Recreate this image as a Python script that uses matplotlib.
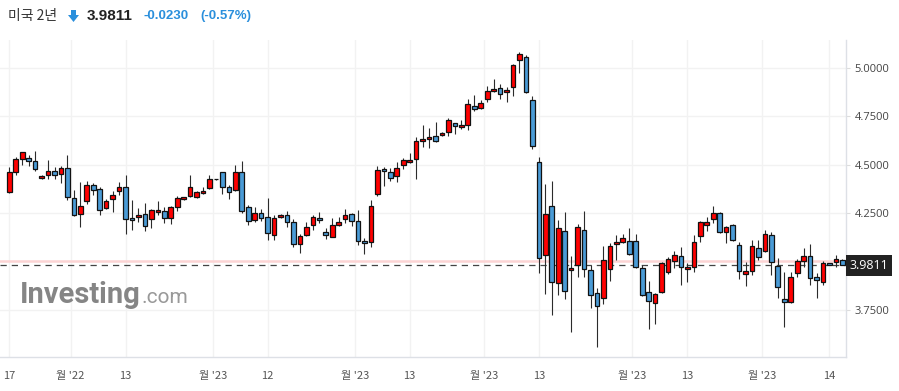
import numpy as np
import matplotlib
matplotlib.use("Agg")
from matplotlib import pyplot as plt
from matplotlib.patches import Polygon
import matplotlib.transforms as mtrans

plt.rcParams['font.family'] = ['Noto Sans CJK KR', 'DejaVu Sans']

# daily candles: open, high, low, close (2-year US treasury yield)
opens = [4.361, 4.464, 4.528, 4.534, 4.518, 4.430, 4.446, 4.466, 4.451, 4.482,
         4.327, 4.244, 4.311, 4.394, 4.373, 4.275, 4.322, 4.363, 4.384, 4.225,
         4.229, 4.244, 4.218, 4.255, 4.260, 4.224, 4.280, 4.322, 4.337, 4.332,
         4.353, 4.379, 4.425, 4.461, 4.384, 4.368, 4.461, 4.280, 4.213, 4.249,
         4.229, 4.136, 4.229, 4.239, 4.203, 4.089, 4.136, 4.188, 4.224, 4.151,
         4.126, 4.188, 4.218, 4.244, 4.208, 4.105, 4.100, 4.348, 4.477, 4.461,
         4.441, 4.497, 4.513, 4.528, 4.621, 4.632, 4.647, 4.652, 4.668, 4.714,
         4.694, 4.704, 4.802, 4.792, 4.838, 4.880, 4.895, 4.874, 4.900, 5.040,
         5.055, 4.833, 4.513, 4.033, 4.286, 3.888, 4.156, 3.955, 3.981, 4.162,
         3.955, 3.836, 3.810, 3.960, 4.089, 4.100, 4.105, 4.105, 3.965, 3.841,
         3.785, 3.841, 3.945, 4.002, 4.027, 3.960, 3.971, 4.131, 4.188, 4.218,
         4.249, 4.151, 4.188, 4.084, 3.934, 3.950, 4.069, 4.053, 4.136, 3.976,
         3.805, 3.790, 3.940, 4.002, 4.027, 3.919, 3.893, 3.991, 3.996, 4.007]
highs = [4.487, 4.542, 4.568, 4.551, 4.571, 4.447, 4.525, 4.487, 4.494, 4.551,
         4.370, 4.410, 4.415, 4.404, 4.384, 4.322, 4.365, 4.410, 4.447, 4.317,
         4.275, 4.303, 4.272, 4.311, 4.280, 4.286, 4.337, 4.334, 4.447, 4.363,
         4.384, 4.447, 4.427, 4.461, 4.394, 4.497, 4.518, 4.291, 4.280, 4.270,
         4.327, 4.239, 4.244, 4.263, 4.218, 4.141, 4.203, 4.239, 4.255, 4.172,
         4.224, 4.229, 4.270, 4.249, 4.265, 4.120, 4.317, 4.492, 4.487, 4.482,
         4.513, 4.534, 4.559, 4.642, 4.704, 4.689, 4.720, 4.668, 4.740, 4.716,
         4.730, 4.838, 4.859, 4.833, 4.905, 4.942, 4.916, 4.900, 5.019, 5.081,
         5.066, 4.854, 4.539, 4.399, 4.415, 4.213, 4.255, 4.027, 4.193, 4.260,
         3.981, 3.862, 4.079, 4.095, 4.136, 4.141, 4.172, 4.141, 3.981, 3.898,
         3.836, 3.996, 4.022, 4.053, 4.074, 3.991, 4.136, 4.208, 4.229, 4.286,
         4.255, 4.182, 4.193, 4.100, 3.996, 4.110, 4.110, 4.162, 4.151, 4.017,
         3.945, 3.945, 4.012, 4.069, 4.089, 3.940, 4.002, 3.991, 4.033, 4.012]
lows = [4.353, 4.447, 4.499, 4.494, 4.470, 4.427, 4.425, 4.425, 4.408, 4.318,
        4.236, 4.180, 4.296, 4.342, 4.239, 4.270, 4.255, 4.342, 4.141, 4.162,
        4.203, 4.158, 4.172, 4.241, 4.198, 4.193, 4.260, 4.320, 4.332, 4.327,
        4.348, 4.373, 4.423, 4.348, 4.322, 4.363, 4.249, 4.188, 4.203, 4.208,
        4.110, 4.110, 4.224, 4.177, 4.074, 4.043, 4.131, 4.162, 4.198, 4.115,
        4.126, 4.183, 4.198, 4.182, 4.084, 4.038, 4.074, 4.337, 4.389, 4.415,
        4.410, 4.477, 4.508, 4.425, 4.590, 4.585, 4.616, 4.647, 4.647, 4.658,
        4.683, 4.678, 4.776, 4.787, 4.823, 4.874, 4.838, 4.823, 4.854, 4.973,
        4.869, 4.580, 3.940, 3.831, 3.723, 3.826, 3.805, 3.635, 3.919, 3.919,
        3.759, 3.557, 3.779, 3.898, 4.007, 4.095, 4.033, 3.965, 3.821, 3.650,
        3.676, 3.836, 3.934, 3.965, 3.878, 3.893, 3.945, 4.100, 4.156, 4.198,
        4.146, 4.095, 4.105, 3.909, 3.872, 3.929, 4.007, 4.048, 3.929, 3.810,
        3.661, 3.785, 3.919, 3.971, 3.878, 3.810, 3.878, 3.981, 3.971, 3.980]
closes = [4.461, 4.528, 4.565, 4.521, 4.477, 4.441, 4.466, 4.446, 4.482, 4.332,
          4.239, 4.286, 4.394, 4.368, 4.265, 4.311, 4.342, 4.384, 4.218, 4.213,
          4.239, 4.182, 4.265, 4.265, 4.224, 4.280, 4.327, 4.332, 4.384, 4.358,
          4.363, 4.425, 4.425, 4.384, 4.358, 4.461, 4.260, 4.208, 4.249, 4.224,
          4.146, 4.224, 4.239, 4.206, 4.089, 4.131, 4.177, 4.229, 4.213, 4.136,
          4.188, 4.203, 4.239, 4.208, 4.105, 4.095, 4.286, 4.472, 4.466, 4.430,
          4.482, 4.523, 4.523, 4.621, 4.632, 4.642, 4.621, 4.663, 4.730, 4.699,
          4.704, 4.813, 4.787, 4.818, 4.880, 4.890, 4.864, 4.885, 5.014, 5.071,
          4.874, 4.596, 4.017, 4.244, 3.893, 4.172, 3.847, 3.965, 4.177, 3.960,
          3.826, 3.769, 4.007, 4.079, 4.100, 4.120, 4.038, 3.971, 3.826, 3.795,
          3.831, 3.991, 4.012, 4.033, 3.971, 3.971, 4.100, 4.203, 4.203, 4.249,
          4.151, 4.177, 4.110, 3.950, 3.950, 4.079, 4.022, 4.141, 3.996, 3.867,
          3.790, 3.919, 4.002, 4.027, 3.914, 3.903, 3.991, 3.981, 4.012, 3.9811]

last_price = 3.9811
prev_close = 4.0041
tick_pos = [0, 9.5, 18, 31.5, 40, 53.5, 62, 73.5, 82, 96.5, 105, 116.5, 127]
tick_labels = ["17", "월 '22", "13", "월 '23", "12", "월 '23", "13", "월 '23",
               "13", "월 '23", "13", "월 '23", "14"]
y_ticks = [3.75, 4.25, 4.5, 4.75, 5.0]

up_color = "#ff0000"
down_color = "#4a9bd6"

o = np.array(opens)
h = np.array(highs)
l = np.array(lows)
c = np.array(closes)
x = np.arange(len(o))

fig = plt.figure(figsize=(8.99, 3.91), dpi=100)
ax = fig.add_axes([0, 1 - 357 / 391, 846 / 899, 317 / 391])

# grid
for t in tick_pos:
    ax.axvline(t, color="#f2f2f2", lw=1, zorder=0)
for t in y_ticks:
    ax.axhline(t, color="#f2f2f2", lw=1, zorder=0)

# previous close and last price lines
ax.axhline(prev_close, color="#fcd4d4", lw=1.8, zorder=1)
ax.axhline(last_price, color="#444444", lw=0.9, ls=(0, (5, 4)), zorder=1)

# candles
ax.vlines(x, l, h, color="#2b2b2b", lw=0.8, zorder=2)
up = c >= o
colors = np.where(up, up_color, down_color)
bottoms = np.minimum(o, c)
heights = np.maximum(np.abs(c - o), 0.004)
ax.bar(x, heights, bottom=bottoms, width=0.72, color=colors,
       edgecolor="#111111", linewidth=0.9, zorder=3)

ax.set_xlim(-1.44, 129.56)
ax.set_ylim(3.5072, 5.1446)

ax.set_xticks(tick_pos)
ax.set_xticklabels(tick_labels)
ax.set_yticks(y_ticks)
ax.set_yticklabels(["%.4f" % v for v in y_ticks])
ax.yaxis.tick_right()
ax.tick_params(axis="x", length=0, pad=10, labelsize=8, labelcolor="#555555")
ax.tick_params(axis="y", length=3, width=0.8, color="#dddddd", pad=3,
               labelsize=8, labelcolor="#444444")
for lab in ax.get_yticklabels():
    lab.set_family(["Open Sans", "DejaVu Sans"])

for s in ["top", "left"]:
    ax.spines[s].set_visible(False)
for s in ["right", "bottom"]:
    ax.spines[s].set_color("#dde0e6")
    ax.spines[s].set_linewidth(1)

# last price box
trans = mtrans.blended_transform_factory(ax.transAxes, ax.transData)
ax.text(1.004, last_price, "%.4f" % last_price, transform=trans, ha="left",
        va="center", color="white", fontsize=9, family=["Open Sans", "DejaVu Sans"],
        bbox=dict(boxstyle="square,pad=0.3", fc="#222222", ec="none"), clip_on=False)

# watermark
wm = fig.text(20 / 899, 1 - 303 / 391, "Investing", fontsize=21, fontweight="bold",
              color="#858585", family=["Roboto", "DejaVu Sans"], va="baseline")
r = fig.canvas.get_renderer()
bb = wm.get_window_extent(renderer=r)
fig.text(bb.x1 / 899 + 0.001, 1 - 303 / 391, ".com", fontsize=15, color="#999999",
         family=["Roboto", "DejaVu Sans"], va="baseline")

# header
fig.text(8 / 899, 1 - 16 / 391, "미국 2년", fontsize=10, color="#333333", va="center")
arrow = [(71, 10), (76, 10), (76, 15), (79, 15), (73.5, 22), (68, 15), (71, 15)]
fig.patches.append(Polygon([(px / 899, 1 - py / 391) for px, py in arrow],
                           closed=True, fc="#2a8fdc", ec="none",
                           transform=fig.transFigure, figure=fig))
fig.text(87 / 899, 1 - 16 / 391, "3.9811", fontsize=11, fontweight="bold",
         color="#222222", va="center", family=["Liberation Sans", "DejaVu Sans"])
fig.text(143 / 899, 1 - 16 / 391, "-0.0230", fontsize=9.5, fontweight="bold",
         color="#2a8fdc", va="center", family=["Liberation Sans", "DejaVu Sans"])
fig.text(200 / 899, 1 - 16 / 391, "(-0.57%)", fontsize=9.5, fontweight="bold",
         color="#2a8fdc", va="center", family=["Liberation Sans", "DejaVu Sans"])

fig.savefig("out.png", dpi=100, facecolor="white")
